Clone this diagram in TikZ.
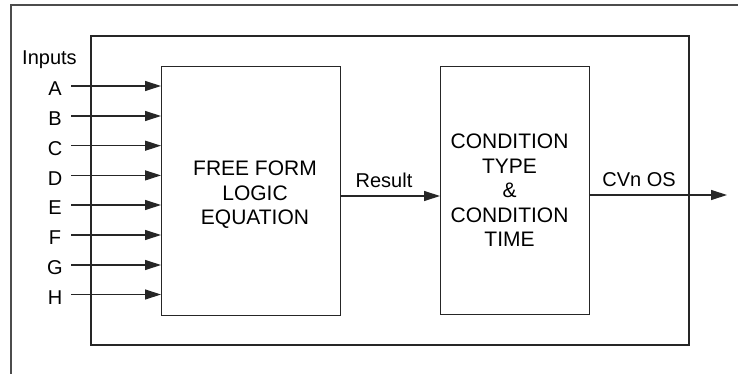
\documentclass[tikz,border=0pt]{standalone}
\usepackage{fontspec}
\setmainfont{Liberation Sans}
\usetikzlibrary{arrows.meta}
\begin{document}
\begin{tikzpicture}[x=1pt,y=-1pt,
  box/.style={draw=black!85, line width=1.4pt},
  lbl/.style={font=\fontsize{20}{26}\selectfont, inner sep=0pt, align=center},
  btxt/.style={font=\fontsize{21}{24.5}\selectfont, inner sep=0pt, align=center},
  arr/.style={draw=black!85, line width=1.2pt, -{Triangle[length=16pt,width=10pt]}}]
\useasboundingbox (0,0) rectangle (738,374);
\draw[draw=black!70, line width=2pt] (11,374) -- (11,5) -- (738,5);
\draw[box] (91,36) rectangle (689,345);
\node[box, minimum width=179pt, minimum height=249pt, anchor=north west, inner sep=0pt] (ff) at (161,66) {};
\node[btxt] (fft) at (255,195) {FREE FORM\\LOGIC\\EQUATION};
\node[box, minimum width=149pt, minimum height=248pt, anchor=north west, inner sep=0pt] (ct) at (440,66) {};
\node[btxt] (ctt) at (509.5,190.5) {CONDITION\\TYPE\\\&\\CONDITION\\TIME};
\node[lbl, anchor=west] (inp) at (22,60) {Inputs};
\foreach \l/\y in {A/86,B/116,C/145.7,D/175.4,E/205,F/235,G/265,H/294.5}{
  \node[lbl] (\l) at (55,\y+3) {\l};
  \coordinate (s\l) at (71,\y);
  \coordinate (e\l) at (161,\y);
  \draw[arr] (s\l) -- (e\l);
}
\coordinate (r1) at (340,196);
\coordinate (r2) at (440,196);
\draw[arr] (r1) -- (r2);
\node[lbl] (res) at (384,180) {Result};
\coordinate (o1) at (589,195);
\coordinate (o2) at (727,195);
\draw[arr] (o1) -- (o2);
\node[lbl] (cvn) at (639,180) {CVn OS};
\end{tikzpicture}
\end{document}
